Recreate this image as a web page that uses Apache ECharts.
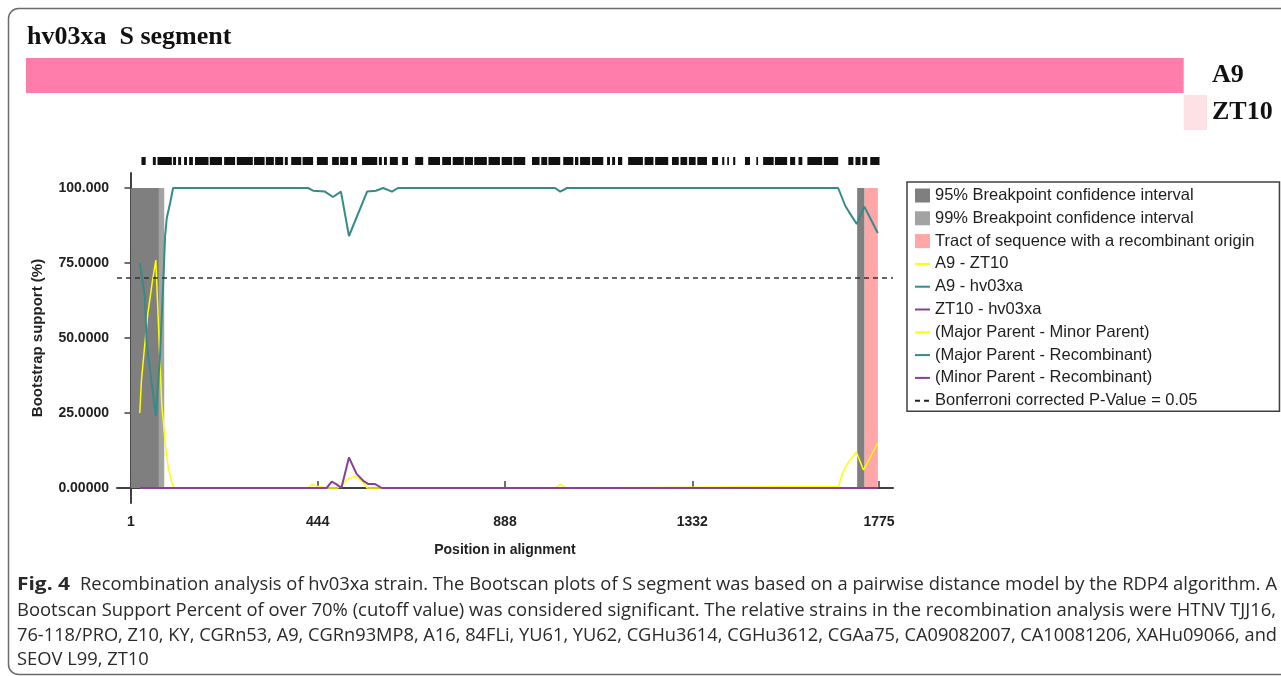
<!DOCTYPE html>
<html>
<head>
<meta charset="utf-8">
<script src="https://cdn.jsdelivr.net/npm/echarts@6/dist/echarts.min.js"></script>
<style>
  html, body { margin: 0; padding: 0; background: #fff; }
  #chart { width: 1281px; height: 676px; }
</style>
</head>
<body>
<div id="chart"></div>
<script>
// bootscan support (%), as [position, value]
const a9_zt10 = [
  [22, 25], [26, 36], [34, 48], [41, 58], [52, 69], [60, 76], [74, 28], [83, 14],
  [90, 6.5], [100, 0.8], [105, 0], [421, 0], [430, 1.2], [445, 0.5], [466, 0],
  [492, 0], [516, 3], [532, 4], [549, 2.3], [561, 0], [1007, 0], [1019, 1.2],
  [1033, 0], [1679, 0.5], [1688, 5], [1703, 8.8], [1721, 12], [1738, 6], [1772, 15]
];
const a9_hv03xa = [
  [22, 75], [34, 64], [38, 49], [60, 24], [70, 44], [79, 73], [82, 84], [86, 90],
  [94, 95], [101, 100], [421, 100], [433, 99.1], [461, 98.8], [480, 97], [499, 98.8],
  [518, 84], [561, 98.8], [582, 99.1], [599, 100], [620, 98.8], [634, 100],
  [1007, 100], [1019, 98.8], [1035, 100], [1678, 100], [1695, 94], [1707, 91.3],
  [1722, 88], [1740, 93.8], [1772, 85]
];
const zt10_hv03xa = [
  [22, 0], [465, 0], [477, 2.1], [489, 1.2], [500, 0], [518, 10.2], [536, 4.7],
  [552, 2.4], [564, 1.3], [580, 1.3], [596, 0], [1772, 0]
];

// shaded spans along the alignment
const ci95 = [[1, 67], [1723, 1740]];
const ci99 = [[1, 80]];
const recTract = [[1740, 1772]];
const shadeRange = [0, 100];
const cutoff = 70;

const xTicks = [1, 444, 888, 1332, 1775];
const yTicks = [0, 25, 50, 75, 100];
const yTickLabels = ['0.00000', '25.0000', '50.0000', '75.0000', '100.000'];

// informative sites strip above the plot
const sites = [
  [26, 36], [53, 60], [64, 98], [101, 108], [113, 120], [127, 134], [139, 148],
  [153, 185], [188, 217], [222, 248], [252, 290], [293, 318], [321, 340], [343, 362],
  [366, 373], [381, 405], [408, 433], [442, 468], [478, 494], [497, 516], [523, 537],
  [549, 585], [589, 596], [601, 608], [615, 634], [644, 658], [675, 694], [706, 734],
  [739, 760], [764, 790], [793, 812], [815, 845], [849, 876], [880, 905], [908, 936],
  [952, 970], [974, 988], [991, 1019], [1026, 1050], [1054, 1062], [1066, 1090],
  [1094, 1121], [1130, 1137], [1142, 1149], [1156, 1166], [1180, 1215], [1219, 1240],
  [1244, 1275], [1284, 1300], [1304, 1320], [1324, 1340], [1344, 1367], [1379, 1393],
  [1403, 1408], [1415, 1419], [1429, 1434], [1457, 1469], [1484, 1488], [1500, 1525],
  [1528, 1557], [1564, 1576], [1584, 1593], [1605, 1640], [1644, 1678], [1702, 1714],
  [1719, 1731], [1735, 1747], [1754, 1776]
];

// parent composition bar at the top
const parents = ['A9', 'ZT10'];
const parentSpans = [[1, 1740], [1740, 1775]];
const parentColors = ['#ff7dab', '#fde1e5'];

const captionLines = [
  'Recombination analysis of hv03xa strain. The Bootscan plots of S segment was based on a pairwise distance model by the RDP4 algorithm. A',
  'Bootscan Support Percent of over 70% (cutoff value) was considered significant. The relative strains in the recombination analysis were HTNV TJJ16,',
  '76-118/PRO, Z10, KY, CGRn53, A9, CGRn93MP8, A16, 84FLi, YU61, YU62, CGHu3614, CGHu3612, CGAa75, CA09082007, CA10081206, XAHu09066, and',
  'SEOV L99, ZT10'
];

const YELLOW = '#ffff00';
const TEAL = '#358a8a';
const PURPLE = '#86409a';
const SANS = '"Liberation Sans", Arial, sans-serif';
const SERIF = '"Liberation Serif", "Times New Roman", serif';
const CAP_FONT = '"Open Sans", sans-serif';
const CAP_SIZE = 18;

function shadeItem(params, api) {
  const a = api.coord([api.value(0), shadeRange[1]]);
  const b = api.coord([api.value(1), shadeRange[0]]);
  return {
    type: 'rect',
    shape: { x: a[0], y: a[1], width: b[0] - a[0], height: b[1] - a[1] },
    style: { fill: api.visual('color') }
  };
}

function siteItem(params, api) {
  const a = api.coord([api.value(0), 1]);
  const b = api.coord([api.value(1), 0]);
  return {
    type: 'rect',
    shape: { x: a[0], y: a[1], width: b[0] - a[0], height: b[1] - a[1] },
    style: { fill: api.visual('color') }
  };
}

function parentItem(params, api) {
  const a = api.coord([api.value(0), api.value(2)]);
  const b = api.coord([api.value(1), api.value(2)]);
  const h = api.size([0, 1])[1] * 0.95;
  return {
    type: 'rect',
    shape: { x: a[0], y: a[1] - h / 2, width: b[0] - a[0], height: h },
    style: { fill: api.visual('color') }
  };
}

// squeeze each justified caption line to its width in the figure
const measureCtx = document.createElement('canvas').getContext('2d');
function fit(text, font, target) {
  measureCtx.font = font;
  return target / measureCtx.measureText(text).width;
}
const capFont = CAP_SIZE + 'px ' + CAP_FONT;
const capTargets = [1197, 1259, 1260];
const capScale = capTargets.map((w, i) => fit(captionLines[i], capFont, w));
capScale.push((capScale[1] + capScale[2]) / 2);
const capY = [585, 611, 636, 660];
const capX = [80, 17, 17, 17];

const captionGraphics = captionLines.map((t, i) => ({
  type: 'text', x: capX[i], y: capY[i], scaleX: capScale[i],
  style: { text: t, font: capFont, fill: '#2a2a2a', verticalAlign: 'middle' }
}));
const figFont = 'bold ' + CAP_SIZE + 'px ' + CAP_FONT;
const figScale = fit('Fig. 4', figFont, 53);

const chart = echarts.init(document.getElementById('chart'));

const lineSeries = (name, data, color, width) => ({
  name, type: 'line', data, symbol: 'none', color,
  xAxisIndex: 0, yAxisIndex: 0, z: 3,
  lineStyle: { color, width }
});
const lineKey = name => ({ name, itemStyle: { opacity: 0 } });

chart.setOption({
  animation: false,
  graphic: [
    { type: 'rect', shape: { x: 8.5, y: 8.5, width: 1300, height: 666, r: 10 },
      style: { fill: 'none', stroke: '#6b6b6b', lineWidth: 1.5 } },
    { type: 'text', x: 27, y: 37,
      style: { text: 'hv03xa  S segment', font: 'bold 26px ' + SERIF, fill: '#111', verticalAlign: 'middle' } },
    { type: 'text', x: 17, y: capY[0], scaleX: figScale,
      style: { text: 'Fig. 4', font: figFont, fill: '#2a2a2a', verticalAlign: 'middle' } },
    ...captionGraphics
  ],
  grid: [
    { left: 117, top: 173, width: 776, height: 330 },
    { left: 117, top: 157, width: 776, height: 8 },
    { left: 26, top: 57, width: 1181, height: 74 }
  ],
  xAxis: [
    {
      type: 'value', gridIndex: 0, min: -32, max: 1808,
      axisLine: { lineStyle: { color: '#404040', width: 2 } },
      axisTick: { customValues: xTicks, inside: true, length: 7, lineStyle: { color: '#404040', width: 1.5 } },
      axisLabel: { customValues: xTicks, color: '#222', fontFamily: SANS, fontWeight: 'bold', fontSize: 14, margin: 12,
        formatter: v => String(v) },
      splitLine: { show: false },
      name: 'Position in alignment', nameLocation: 'middle', nameGap: 40,
      nameTextStyle: { color: '#222', fontFamily: SANS, fontWeight: 'bold', fontSize: 14 }
    },
    { type: 'value', gridIndex: 1, min: -32, max: 1808, show: false },
    { type: 'value', gridIndex: 2, min: 1, max: 1775, show: false }
  ],
  yAxis: [
    {
      type: 'value', gridIndex: 0, min: -5, max: 105,
      axisLine: { show: true, lineStyle: { color: '#404040', width: 2 } },
      axisTick: { show: true, customValues: yTicks, length: 6, lineStyle: { color: '#404040', width: 1.5 } },
      axisLabel: {
        customValues: yTicks, color: '#222', fontFamily: SANS, fontWeight: 'bold', fontSize: 14, margin: 8,
        formatter: v => yTickLabels[yTicks.indexOf(v)] || ''
      },
      splitLine: { show: false },
      name: 'Bootstrap support (%)', nameLocation: 'middle', nameRotate: 90, nameGap: 72,
      nameTextStyle: { color: '#222', fontFamily: SANS, fontWeight: 'bold', fontSize: 15 }
    },
    { type: 'value', gridIndex: 1, min: 0, max: 1, show: false },
    {
      type: 'category', gridIndex: 2, data: parents, inverse: true, position: 'right',
      axisLine: { show: false }, axisTick: { show: false },
      axisLabel: { color: '#111', fontFamily: SERIF, fontWeight: 'bold', fontSize: 26, margin: 5 }
    }
  ],
  legend: {
    orient: 'vertical', left: 907, top: 182,
    padding: [5, 25, 2, 7],
    borderColor: '#404040', borderWidth: 1.5,
    itemWidth: 15, itemHeight: 14, itemGap: 5.8,
    selectedMode: false,
    textStyle: { fontFamily: SANS, fontSize: 16.5, color: '#1e1e1e', lineHeight: 15 },
    data: [
      { name: '95% Breakpoint confidence interval', icon: 'rect' },
      { name: '99% Breakpoint confidence interval', icon: 'rect' },
      { name: 'Tract of sequence with a recombinant origin', icon: 'rect' },
      lineKey('A9 - ZT10'), lineKey('A9 - hv03xa'), lineKey('ZT10 - hv03xa'),
      lineKey('(Major Parent - Minor Parent)'), lineKey('(Major Parent - Recombinant)'),
      lineKey('(Minor Parent - Recombinant)'), lineKey('Bonferroni corrected P-Value = 0.05')
    ]
  },
  series: [
    { name: '99% Breakpoint confidence interval', type: 'custom', renderItem: shadeItem,
      xAxisIndex: 0, yAxisIndex: 0, data: ci99, color: '#a3a3a3', itemStyle: { color: '#a3a3a3' }, z: 1, encode: { x: [0, 1] } },
    { name: 'Tract of sequence with a recombinant origin', type: 'custom', renderItem: shadeItem,
      xAxisIndex: 0, yAxisIndex: 0, data: recTract, color: '#ffa6a6', itemStyle: { color: '#ffa6a6' }, z: 1, encode: { x: [0, 1] } },
    { name: '95% Breakpoint confidence interval', type: 'custom', renderItem: shadeItem,
      xAxisIndex: 0, yAxisIndex: 0, data: ci95, color: '#7f7f7f', itemStyle: { color: '#7f7f7f' }, z: 2, encode: { x: [0, 1] } },
    lineSeries('A9 - ZT10', a9_zt10, YELLOW, 1.5),
    lineSeries('A9 - hv03xa', a9_hv03xa, TEAL, 2),
    lineSeries('ZT10 - hv03xa', zt10_hv03xa, PURPLE, 2),
    lineSeries('(Major Parent - Minor Parent)', [], YELLOW, 1.5),
    lineSeries('(Major Parent - Recombinant)', [], TEAL, 2),
    lineSeries('(Minor Parent - Recombinant)', [], PURPLE, 2),
    {
      name: 'Bonferroni corrected P-Value = 0.05', type: 'line', data: [], symbol: 'none', color: '#222',
      xAxisIndex: 0, yAxisIndex: 0, z: 4,
      lineStyle: { color: '#222', width: 1.5, type: [5, 4] },
      markLine: {
        silent: true, symbol: 'none', label: { show: false },
        lineStyle: { color: '#333', width: 1.5, type: [5, 4] },
        data: [{ yAxis: cutoff }]
      }
    },
    { type: 'custom', renderItem: siteItem, xAxisIndex: 1, yAxisIndex: 1, data: sites,
      itemStyle: { color: '#111' }, encode: { x: [0, 1] } },
    { type: 'custom', renderItem: parentItem, xAxisIndex: 2, yAxisIndex: 2,
      encode: { x: [0, 1], y: 2 },
      data: parents.map((p, i) => ({ value: [parentSpans[i][0], parentSpans[i][1], i], itemStyle: { color: parentColors[i] } })) }
  ]
});
</script>
</body>
</html>
